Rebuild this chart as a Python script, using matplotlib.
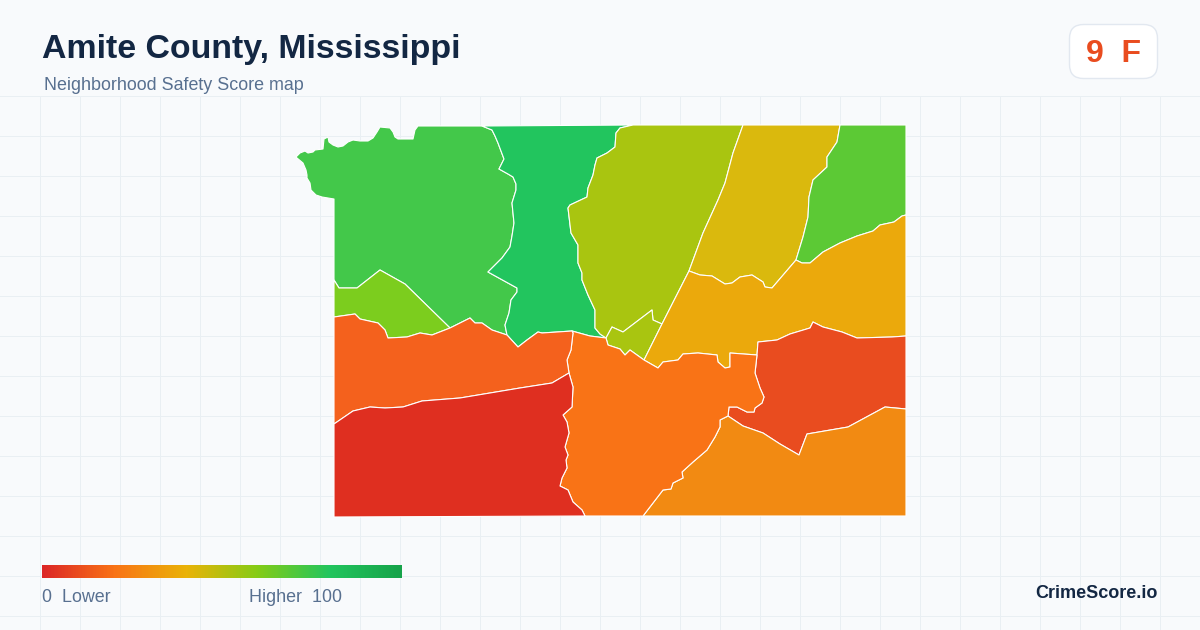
import numpy as np
import matplotlib
matplotlib.use("Agg")
import matplotlib.pyplot as plt
from matplotlib.colors import LinearSegmentedColormap
from matplotlib.patches import FancyBboxPatch, Polygon

plt.rcParams['font.family'] = ['Liberation Sans', 'DejaVu Sans']

# borders between the areas (pixels, y going down)
nw_coast = [(334, 199), (322, 197), (316, 195), (311, 190), (310, 183), (307, 178), (307, 175), (306, 170), (303, 163), (297, 158),
            (296, 157), (300, 153), (305, 151), (308, 153), (313, 152), (315, 150), (323, 149), (324, 139), (328, 137), (329, 142),
            (333, 145), (338, 147), (343, 146), (348, 142), (353, 140), (360, 141), (368, 141), (373, 138), (377, 132), (380, 127),
            (390, 128), (393, 132), (395, 137), (398, 139), (405, 139), (413, 139), (415, 130), (418, 126), (482, 126)]
nw_n_central = [(482, 126), (492, 130), (495, 136), (498, 143), (504, 159), (499, 169), (508, 174), (513, 177), (516, 184), (516, 190),
                (512, 203), (514, 223), (512, 236), (510, 247), (502, 258), (488, 272), (517, 288), (517, 292), (511, 300),
                (509, 313), (505, 325), (507, 335)]
lime_top = [(334, 280), (339, 288), (357, 288), (380, 270), (405, 284), (450, 328)]
west_north_a = [(334, 317), (355, 314), (360, 319), (378, 323), (385, 330), (388, 338), (407, 337), (420, 333), (432, 335), (450, 328)]
west_north_b = [(450, 328), (470, 318), (475, 323), (482, 323), (492, 330), (507, 335)]
west_north_c = [(507, 335), (518, 347), (527, 340), (538, 332), (542, 333), (572, 331)]
n_central_olive = [(633, 125), (620, 128), (616, 133), (615, 147), (607, 153), (597, 158), (595, 165), (593, 175), (588, 188),
                   (587, 197), (570, 205), (568, 208), (571, 233), (578, 245), (578, 263), (582, 273), (582, 280), (588, 295),
                   (595, 310), (595, 328), (600, 334), (606, 338)]
n_central_south = [(572, 331), (590, 336), (606, 338)]
olive_yellow = [(743, 125), (733, 153), (725, 183), (718, 200), (703, 233), (689, 271)]
diagonal_a = [(689, 271), (662, 324)]
diagonal_b = [(662, 324), (644, 360)]
pocket_north = [(606, 338), (612, 327), (623, 332), (652, 310), (653, 320), (662, 324)]
pocket_south = [(606, 338), (608, 345), (620, 349), (625, 355), (630, 350), (644, 360)]
yellow_south = [(689, 271), (700, 275), (712, 276), (725, 284), (732, 283), (740, 277), (752, 275), (763, 282), (765, 287),
                (772, 288), (796, 260)]
yellow_east = [(840, 125), (837, 142), (827, 157), (827, 167), (813, 180), (809, 197), (808, 217), (803, 237), (796, 260)]
east_south = [(906, 215), (902, 216), (894, 222), (880, 225), (873, 231), (857, 236), (840, 243), (823, 252), (810, 263),
              (802, 263), (796, 260)]
amber_red = [(906, 336), (892, 337), (857, 338), (842, 332), (823, 327), (813, 322), (810, 328), (790, 334), (777, 340),
             (758, 342), (757, 355)]
amber_orange = [(757, 355), (730, 353), (730, 367), (725, 368), (718, 362), (717, 355), (698, 353), (683, 354), (678, 360),
                (663, 362), (658, 368), (644, 360)]
red_west = [(757, 355), (755, 373), (760, 388), (764, 397), (762, 403), (755, 408), (754, 412), (747, 412), (737, 407),
            (729, 407), (728, 416)]
red_south = [(728, 416), (743, 426), (763, 433), (780, 444), (799, 455), (807, 434), (848, 427), (885, 407), (906, 409)]
south_orange_west = [(643, 516), (663, 490), (671, 489), (673, 483), (683, 478), (682, 472), (693, 462), (707, 450), (715, 437),
                     (720, 427), (720, 420), (728, 416)]
dark_red_east = [(585, 516), (582, 510), (573, 502), (568, 490), (560, 486), (562, 478), (567, 468), (566, 460), (568, 455),
                 (565, 447), (569, 433), (567, 422), (563, 415), (572, 407), (573, 387), (569, 373)]
west_east = [(569, 373), (567, 360), (571, 350), (573, 333), (572, 331)]
west_south = [(569, 373), (552, 383), (520, 388), (460, 398), (422, 401), (403, 407), (385, 408), (370, 407), (353, 411), (334, 424)]


def rev(b):
    return b[::-1]


def join(*parts):
    pts = []
    for p in parts:
        pts += p
    return pts


areas = [
    ("#43c84a", join(nw_coast, nw_n_central, rev(west_north_b), rev(lime_top))),
    ("#7ccd1e", join(lime_top, rev(west_north_a))),
    ("#22c55e", join(nw_n_central, west_north_c, n_central_south, rev(n_central_olive))),
    ("#a9c510", join(n_central_olive, pocket_north, rev(diagonal_a), rev(olive_yellow))),
    ("#a9c510", join(pocket_north, diagonal_b, rev(pocket_south))),
    ("#dab90d", join(olive_yellow, yellow_south, rev(yellow_east))),
    ("#5cc935", join(yellow_east, rev(east_south), [(906, 125)])),
    ("#eba90c", join(diagonal_a, diagonal_b, rev(amber_orange), rev(amber_red), east_south, rev(yellow_south))),
    ("#e94c1f", join(amber_red, red_west, red_south)),
    ("#f28a12", join(south_orange_west, red_south, [(906, 516)])),
    ("#f97316", join(n_central_south, pocket_south, rev(amber_orange), red_west, rev(south_orange_west), dark_red_east, west_east)),
    ("#f4611d", join(west_north_a, west_north_b, west_north_c, rev(west_east), west_south)),
    ("#df2f20", join(west_south, [(334, 517)], dark_red_east)),
]

bar_stops = ["#dc2626", "#f97316", "#eab308", "#84cc16", "#22c55e", "#16a34a"]

fig = plt.figure(figsize=(12, 6.3), dpi=100, facecolor="#f8fafc")
ax = fig.add_axes([0, 0, 1, 1])
ax.set_xlim(0, 1200)
ax.set_ylim(630, 0)
ax.axis("off")

# fond quadrille
for x in np.arange(40.5, 1200, 40):
    ax.plot([x, x], [96.5, 630], color="#e9eff3", lw=0.72, snap=False, zorder=1)
for y in np.arange(96.5, 630, 40):
    ax.plot([0, 1200], [y, y], color="#e9eff3", lw=0.72, snap=False, zorder=1)

for colour, pts in areas:
    ax.add_patch(Polygon(pts, closed=True, facecolor=colour, edgecolor="white", lw=0.8, joinstyle="round", zorder=2))

cmap = LinearSegmentedColormap.from_list("score", bar_stops)
ax.imshow(np.linspace(0, 1, 360).reshape(1, -1), cmap=cmap, extent=(42, 402, 578, 565), aspect="auto", zorder=3)
ax.set_xlim(0, 1200)
ax.set_ylim(630, 0)

ax.text(42, 49.5, "Amite County, Mississippi", fontsize=24.4, fontweight="bold", color="#132743", va="center", ha="left")
ax.text(44, 86, "Neighborhood Safety Score map", fontsize=12.9, color="#587090", va="center", ha="left")
ax.text(42, 597.5, "0  Lower", fontsize=12.9, color="#587090", va="center", ha="left")
ax.text(249, 597.5, "Higher  100", fontsize=12.9, color="#587090", va="center", ha="left")
ax.text(1158, 594, "CrimeScore.io", fontsize=13, fontweight="bold", color="#132743", va="center", ha="right")

ax.add_patch(FancyBboxPatch((1083.5, 38.5), 60, 26, boxstyle="round,pad=14,rounding_size=14",
                            facecolor="white", edgecolor="#e2e8f0", lw=1, zorder=3))
ax.text(1114, 53.5, "9  F", fontsize=23, fontweight="bold", color="#e94c1f", va="center", ha="center", zorder=4)

fig.savefig("out.png", dpi=100, facecolor=fig.get_facecolor())
